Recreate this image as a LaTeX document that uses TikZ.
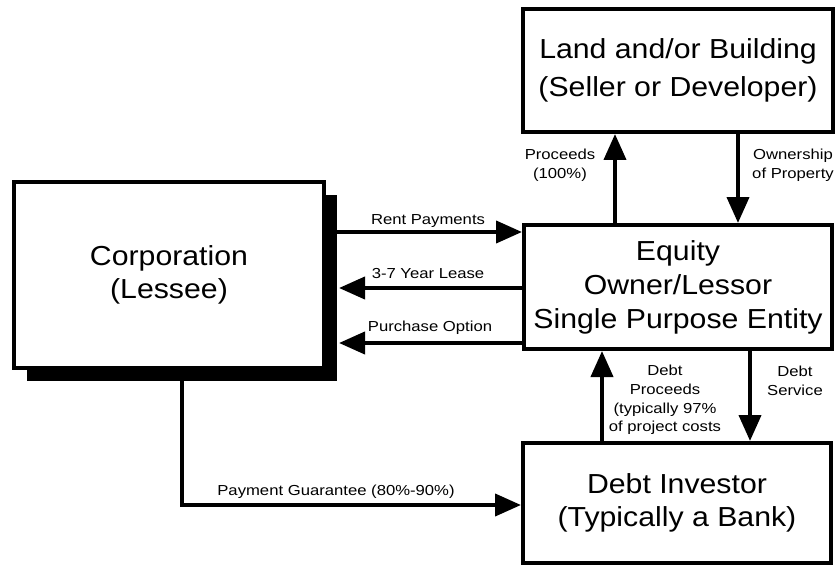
\documentclass[tikz,border=0pt]{standalone}
\usepackage{fontspec}
\setmainfont{Liberation Sans}
\newfontfamily\bigf[FakeStretch=1.1]{Liberation Sans}
\newfontfamily\smallf[FakeStretch=1.15]{Liberation Sans}
\usetikzlibrary{arrows.meta,shadows}
\begin{document}
\begin{tikzpicture}[x=1pt,y=-1pt,
  box/.style={draw,fill=white,line width=4pt,inner sep=0pt,align=center,font=\bigf\fontsize{27.5}{33}\selectfont},
  lbl/.style={inner sep=0pt,align=center,font=\smallf\fontsize{14.5}{18.7}\selectfont},
  arr/.style={line width=4pt,-{Triangle[length=26pt,width=22pt]}}]
\useasboundingbox[fill=white] (0,0) rectangle (838,567);
% boxes
\node[box,minimum width=310pt,minimum height=186pt,
  drop shadow={shadow xshift=13pt,shadow yshift=-13pt,fill=black,opacity=1}]
  (corp) at (169,275) {Corporation\\(Lessee)};
\node[box,minimum width=310pt,minimum height=123pt,font=\bigf\fontsize{27.5}{38}\selectfont]
  (land) at (678,70.5) {Land and/or Building\\(Seller or Developer)};
\node[box,minimum width=308pt,minimum height=124pt,font=\bigf\fontsize{27.5}{34}\selectfont]
  (equity) at (678,287) {Equity\\Owner/Lessor\\Single Purpose Entity};
\node[box,minimum width=308pt,minimum height=120pt]
  (debt) at (677,503) {Debt Investor\\(Typically a Bank)};
% horizontal connectors
\draw[arr] ([xshift=6pt]corp.east |- 0,232) -- (equity.west |- 0,232);
\draw[arr] (equity.west |- 0,288) -- ([xshift=13pt]corp.east |- 0,288);
\draw[arr] (equity.west |- 0,343) -- ([xshift=13pt]corp.east |- 0,343);
% vertical connectors
\draw[arr] (equity.north -| 615,0) -- (land.south -| 615,0);
\draw[arr] (land.south -| 738,0) -- (equity.north -| 738,0);
\draw[arr] (debt.north -| 602,0) -- (equity.south -| 602,0);
\draw[arr] (equity.south -| 750,0) -- (debt.north -| 750,0);
% payment guarantee
\draw[arr] ([yshift=-6pt]corp.south -| 182,0) |- (debt.west |- 0,505);
% labels
\node[lbl] (l1) at (428,221) {Rent Payments};
\node[lbl] (l2) at (428,274) {3-7 Year Lease};
\node[lbl] (l3) at (430,328) {Purchase Option};
\node[lbl] (l4) at (560,165.5) {Proceeds\\(100\%)};
\node[lbl] (l5) at (793,165.5) {Ownership\\of Property};
\node[lbl] (l6) at (665,400) {Debt\\Proceeds\\(typically 97\%\\of project costs};
\node[lbl] (l7) at (795,380.5) {Debt\\Service};
\node[lbl] (l8) at (336,492) {Payment Guarantee (80\%-90\%)};
\end{tikzpicture}
\end{document}
